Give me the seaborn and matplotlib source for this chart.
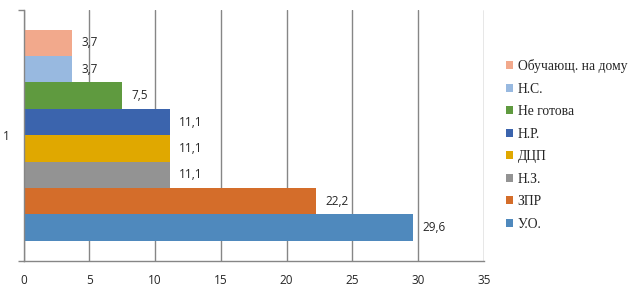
import matplotlib
matplotlib.use("Agg")
import matplotlib.pyplot as plt
import seaborn as sns
import pandas as pd

categories = ["1"]
series = ["Обучающ. на дому", "Н.С.", "Не готова", "Н.Р.", "ДЦП", "Н.З.", "ЗПР", "У.О."]
values = [3.7, 3.7, 7.5, 11.1, 11.1, 11.1, 22.2, 29.6]
colors = ["#F2A98C", "#98B9E0", "#5F9A3F", "#3B64AD", "#E0A800", "#939393", "#D46D2A", "#4F89BD"]
xticks = [0, 5, 10, 15, 20, 25, 30, 35]

df = pd.DataFrame({"cat": categories * len(series), "series": series, "value": values})

sns.set_style("white")
plt.rcParams["font.family"] = ["Open Sans", "DejaVu Sans"]

fig = plt.figure(figsize=(6.38, 2.99), dpi=100)
ax = fig.add_axes([23.5 / 638, 38 / 299, (484 - 23.5) / 638, (261 - 9.5) / 299])

sns.barplot(data=df, y="cat", x="value", hue="series", hue_order=series,
            palette=dict(zip(series, colors)), orient="h", width=0.84,
            saturation=1, ax=ax, legend=True, edgecolor="none", linewidth=0)

ax.set_xlim(0, 35)
ax.set_ylim(0.5, -0.5)
ax.set_xticks(xticks)
ax.set_xticklabels([str(t) for t in xticks], fontsize=8.5)
ax.tick_params(axis="x", length=4, width=1, color="#868686", direction="out", pad=5)
ax.tick_params(axis="y", length=0, pad=10, labelsize=8.5)
ax.set_yticks([-0.5, 0.5], minor=True)
ax.tick_params(axis="y", which="minor", length=4, width=1, color="#868686", direction="out", left=True)
ax.set_xlabel("")
ax.set_ylabel("")
ax.grid(axis="x", color="#868686", linewidth=1)
ax.grid(axis="y", visible=False)
ax.set_axisbelow(True)
for s in ["top", "right"]:
    ax.spines[s].set_visible(False)
for s in ["left", "bottom"]:
    ax.spines[s].set_color("#868686")
    ax.spines[s].set_linewidth(1)

for cont, v in zip(ax.containers, values):
    ax.bar_label(cont, labels=[f"{v:.1f}".replace(".", ",")], padding=7, fontsize=8.5)

handles, labels = ax.get_legend_handles_labels()
ax.legend(handles, labels, loc="upper left", bbox_to_anchor=(506 / 638, 1 - 59 / 299),
          bbox_transform=fig.transFigure, frameon=False, handlelength=0.55, handleheight=0.55,
          handletextpad=0.3, labelspacing=0.70, prop={"family": "Liberation Serif", "size": 9.8},
          borderaxespad=0, borderpad=0)

fig.savefig("out.png", dpi=100)
